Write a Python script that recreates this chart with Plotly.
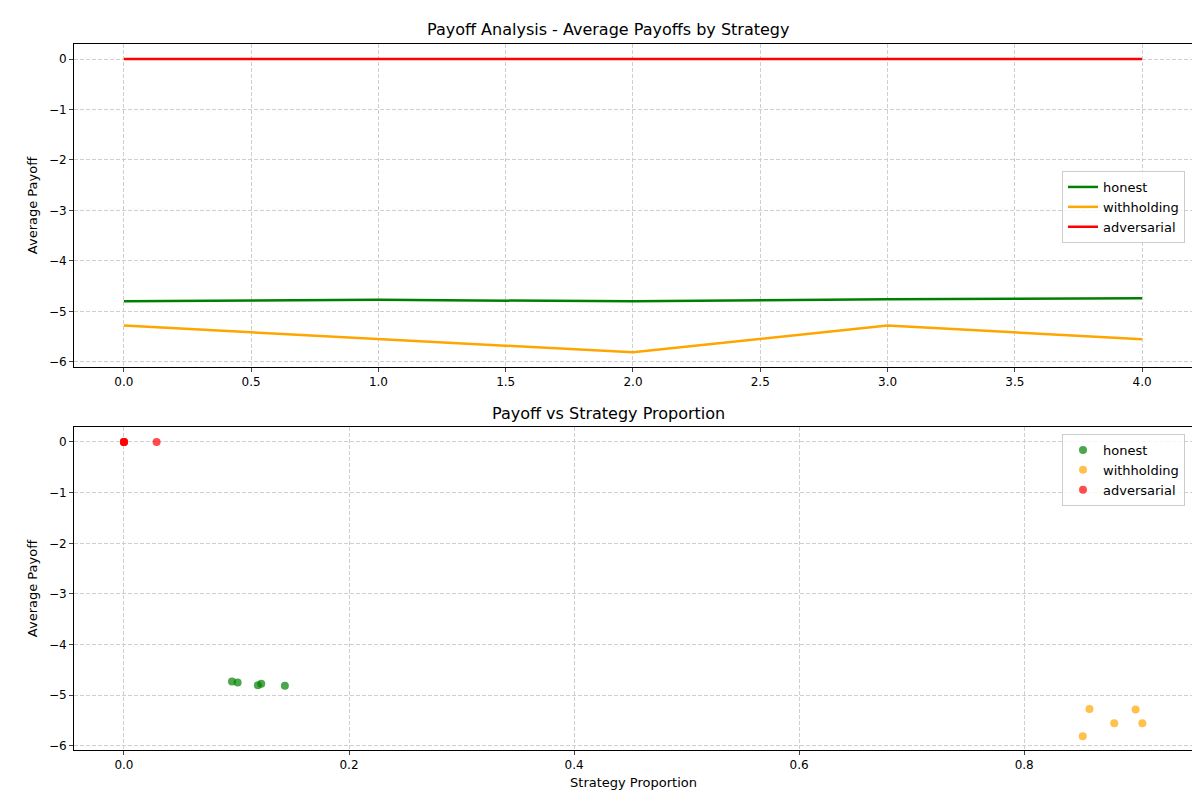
import plotly.graph_objects as go
from plotly.subplots import make_subplots

steps = [0, 1, 2, 3, 4]
honest = [-4.80, -4.77, -4.80, -4.76, -4.74]
withholding = [-5.28, -5.55, -5.81, -5.28, -5.55]
adversarial = [0.0, 0.0, 0.0, 0.0, 0.0]

honest_prop = [0.119, 0.101, 0.143, 0.096, 0.122]
honest_pay = [-4.80, -4.75, -4.81, -4.73, -4.77]
withholding_prop = [0.858, 0.905, 0.852, 0.899, 0.880]
withholding_pay = [-5.27, -5.55, -5.81, -5.28, -5.55]
adversarial_prop = [0.0, 0.0, 0.0, 0.029, 0.0]
adversarial_pay = [0.0, 0.0, 0.0, 0.0, 0.0]

colors = {"honest": "green", "withholding": "orange", "adversarial": "red"}

fig = make_subplots(rows=2, cols=1, vertical_spacing=0.0,
                    subplot_titles=("Payoff Analysis - Average Payoffs by Strategy",
                                    "Payoff vs Strategy Proportion"))

for name, ys in [("honest", honest), ("withholding", withholding), ("adversarial", adversarial)]:
    fig.add_trace(go.Scatter(x=steps, y=ys, mode="lines", name=name, legend="legend",
                             line=dict(color=colors[name], width=2.5)), row=1, col=1)

for name, xs, ys in [("honest", honest_prop, honest_pay),
                     ("withholding", withholding_prop, withholding_pay),
                     ("adversarial", adversarial_prop, adversarial_pay)]:
    fig.add_trace(go.Scatter(x=xs, y=ys, mode="markers", name=name, legend="legend2",
                             marker=dict(color=colors[name], size=8, opacity=0.7)), row=2, col=1)

axis_common = dict(showline=True, linecolor="black", mirror=True, ticks="outside", ticklen=4,
                   showgrid=True, gridcolor="#cfcfcf", griddash="4px,2px", zeroline=False,
                   automargin=False, tickfont=dict(size=12, color="black"),
                   title_font=dict(size=13, color="black"))

fig.update_xaxes(**axis_common)
fig.update_yaxes(**axis_common)
fig.update_xaxes(range=[-0.196, 4.2], dtick=0.5, tickformat=".1f", domain=[66 / 1200, 1185 / 1200], row=1, col=1)
fig.update_yaxes(range=[-6.1, 0.297], dtick=1, domain=[(800 - 359) / 800, (800 - 36) / 800],
                 title_text="Average Payoff", title_standoff=8, row=1, col=1)
fig.update_xaxes(range=[-0.0444, 0.950], dtick=0.2, tickformat=".1f", domain=[66 / 1200, 1185 / 1200],
                 title_text="Strategy Proportion", title_standoff=6, row=2, col=1)
fig.update_yaxes(range=[-6.08, 0.296], dtick=1, domain=[(800 - 742) / 800, (800 - 419) / 800],
                 title_text="Average Payoff", title_standoff=8, row=2, col=1)

fig.layout.annotations[0].update(y=(800 - 22) / 800, yanchor="middle", font=dict(size=16, color="black"))
fig.layout.annotations[1].update(y=(800 - 405) / 800, yanchor="middle", font=dict(size=16, color="black"))

legend_style = dict(bgcolor="rgba(255,255,255,0.8)", bordercolor="#cccccc", borderwidth=1,
                    font=dict(size=13, color="black"), xanchor="right", yanchor="top")
fig.update_layout(
    width=1200, height=800, plot_bgcolor="white", paper_bgcolor="white",
    font=dict(family="DejaVu Sans", size=13, color="black"),
    margin=dict(l=0, r=0, t=0, b=0), showlegend=True,
    legend=dict(x=1177 / 1200, y=(800 - 163) / 800, **legend_style),
    legend2=dict(x=1177 / 1200, y=(800 - 426) / 800, **legend_style),
)

fig.write_html("out.html")
